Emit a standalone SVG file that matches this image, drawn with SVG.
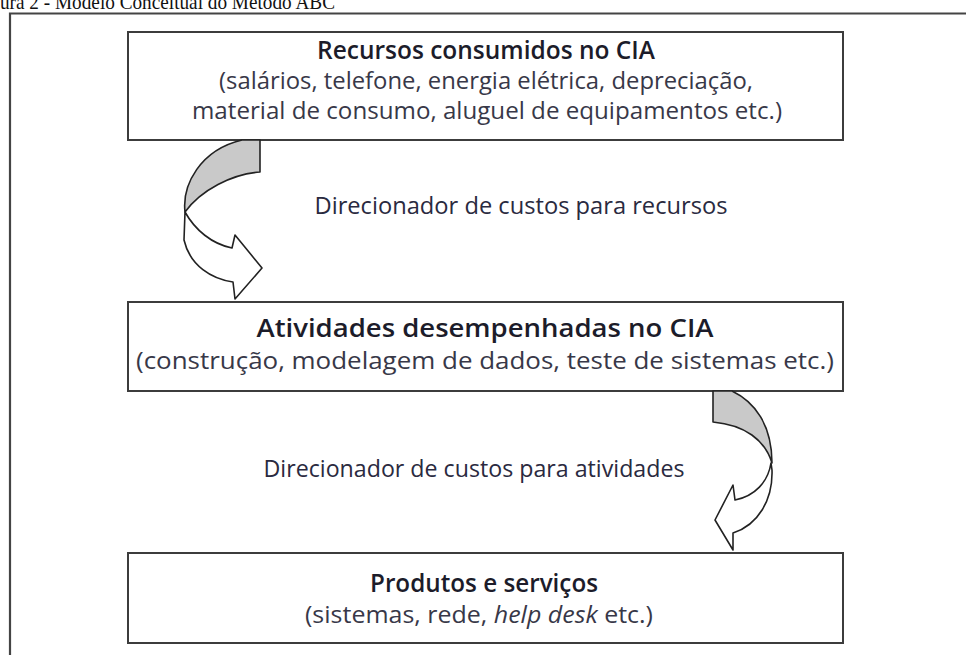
<svg xmlns="http://www.w3.org/2000/svg" width="966" height="655" viewBox="0 0 966 655">
<style>
.box{fill:#ffffff;stroke:#3c3c3c;stroke-width:2}
.t{font-family:"Open Sans","Noto Sans",sans-serif;text-anchor:middle}
.h{font-weight:600;fill:#1c1c2a}
.s{fill:#383848}
.lab{fill:#2a2a40}
.gray{fill:#c9c9c9;stroke:#222;stroke-width:1.6;stroke-linejoin:round}
.white{fill:#ffffff;stroke:#222;stroke-width:1.6;stroke-linejoin:round}
</style>
<rect width="966" height="655" fill="#ffffff"/>
<text x="0" y="9" font-family="'Liberation Serif','Times New Roman',serif" font-size="22" fill="#111" textLength="335" lengthAdjust="spacingAndGlyphs">ura 2 - Modelo Conceitual do Método ABC</text>
<path d="M10,655 L10,13.5 L966,13.5" fill="none" stroke="#444" stroke-width="2.2"/>

<g id="node-recursos">
<rect class="box" x="128" y="32" width="715" height="108"/>
<text class="t h" x="486" y="59" font-size="25" textLength="338" lengthAdjust="spacingAndGlyphs">Recursos consumidos no CIA</text>
<text class="t s" x="486" y="89" font-size="24" textLength="534" lengthAdjust="spacingAndGlyphs">(salários, telefone, energia elétrica, depreciação,</text>
<text class="t s" x="487" y="119" font-size="24" textLength="590" lengthAdjust="spacingAndGlyphs">material de consumo, aluguel de equipamentos etc.)</text>
</g>

<g id="node-atividades">
<rect class="box" x="128" y="302" width="715" height="89"/>
<text class="t h" x="485" y="337" font-size="25" font-weight="700" textLength="457" lengthAdjust="spacingAndGlyphs">Atividades desempenhadas no CIA</text>
<text class="t s" x="485" y="369" font-size="24" textLength="698" lengthAdjust="spacingAndGlyphs">(construção, modelagem de dados, teste de sistemas etc.)</text>
</g>

<g id="node-produtos">
<rect class="box" x="128" y="553" width="715" height="90"/>
<text class="t h" x="484" y="592" font-size="25" textLength="228" lengthAdjust="spacingAndGlyphs">Produtos e serviços</text>
<text class="t s" x="479" y="623" font-size="23" textLength="348" lengthAdjust="spacingAndGlyphs">(sistemas, rede, <tspan font-style="italic">help desk</tspan> etc.)</text>
</g>

<g id="connectors">
<g id="arrow-recursos-atividades">
<path class="gray" d="M242,140 L260,140 L260,172 C232,174 201,190 185,212 C182,185 200,150 242,140 Z"/>
<path class="white" d="M185,212 C195,230 212,244 232,248 L235,235 L262,268 L235,299 L233,282 C212,279 190,266 184,240 Z"/>
<text class="t lab" x="521" y="214" font-size="24" textLength="413" lengthAdjust="spacingAndGlyphs">Direcionador de custos para recursos</text>
</g>
<g id="arrow-atividades-produtos">
<path class="gray" d="M713,391 L732,391 C755,402 772,425 772,463 C765,440 745,425 713,422 Z"/>
<path class="white" d="M771,463 C768,482 755,496 735,500 L733,485 L715,520 L733,550 L733,533 C758,525 773,500 772,470 Z"/>
<text class="t lab" x="474" y="477" font-size="24" textLength="421" lengthAdjust="spacingAndGlyphs">Direcionador de custos para atividades</text>
</g>
</g>
</svg>
